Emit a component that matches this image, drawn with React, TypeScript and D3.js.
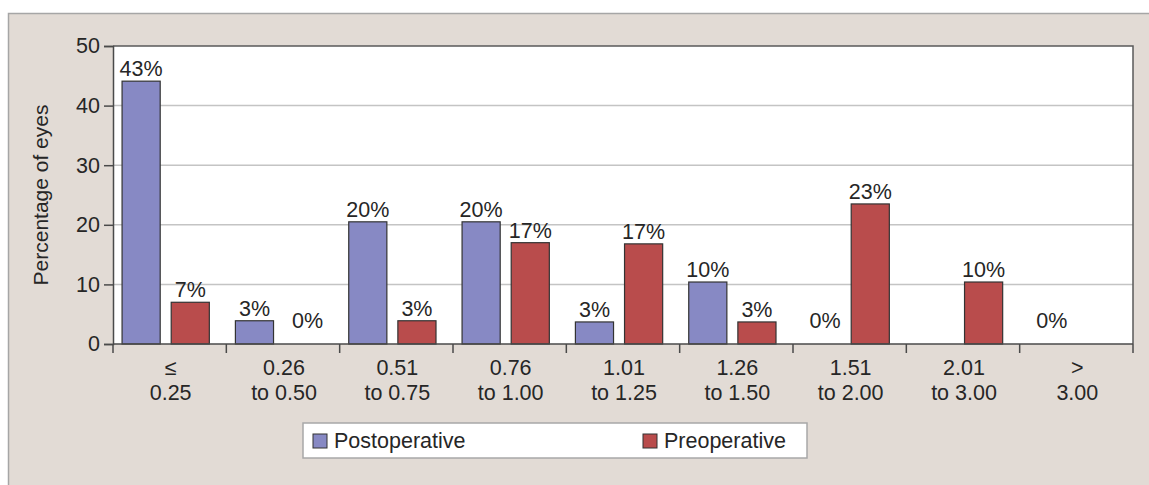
import React, { useEffect, useRef } from 'react';
import * as d3 from 'd3';

const categories = [
  ['≤', '0.25'],
  ['0.26', 'to 0.50'],
  ['0.51', 'to 0.75'],
  ['0.76', 'to 1.00'],
  ['1.01', 'to 1.25'],
  ['1.26', 'to 1.50'],
  ['1.51', 'to 2.00'],
  ['2.01', 'to 3.00'],
  ['>', '3.00'],
];

const seriesNames = ['Postoperative', 'Preoperative'];

// bar heights
const postopValues = [44.1, 3.9, 20.5, 20.5, 3.7, 10.4, 0, 0, 0];
const preopValues = [7.0, 0, 3.9, 17.0, 16.8, 3.7, 23.5, 10.4, 0];

// printed labels (null = no label in the original)
const postopLabels = ['43%', '3%', '20%', '20%', '3%', '10%', '0%', null, '0%'];
const preopLabels = ['7%', '0%', '3%', '17%', '17%', '3%', '23%', '10%', null];

const yTicks = [0, 10, 20, 30, 40, 50];

const colors = ['#8789c4', '#b94c4c'];

const FONT = '"Liberation Sans", Arial, sans-serif';
const FS = 21.5;

export default function App() {
  const svgRef = useRef<SVGSVGElement>(null);

  useEffect(() => {
    if (!svgRef.current) return;
    const svg = d3.select(svgRef.current);
    svg.selectAll('*').remove();

    const W = 1149;
    const H = 485;
    const plot = { left: 113, right: 1133, top: 46, bottom: 344 };

    // outer panel
    svg.append('rect').attr('width', W).attr('height', H).attr('fill', '#ffffff');
    svg
      .append('rect')
      .attr('x', 8.5)
      .attr('y', 13.5)
      .attr('width', W + 20)
      .attr('height', H)
      .attr('fill', '#e2dbd5')
      .attr('stroke', '#a6a6a6')
      .attr('stroke-width', 1.5);

    // scales
    const x0 = d3
      .scaleBand<number>()
      .domain(categories.map((_, i) => i))
      .range([plot.left, plot.right]);
    const bw = x0.bandwidth();
    const x1 = d3
      .scaleBand<number>()
      .domain([0, 1])
      .range([bw * 0.08, bw * 0.85])
      .paddingInner(0.224);
    const y = d3.scaleLinear().domain([0, 50]).range([plot.bottom, plot.top]);

    // plot background
    svg
      .append('rect')
      .attr('x', plot.left)
      .attr('y', plot.top)
      .attr('width', plot.right - plot.left)
      .attr('height', plot.bottom - plot.top)
      .attr('fill', '#ffffff');

    // grid lines
    svg
      .append('g')
      .selectAll('line')
      .data(yTicks.filter((t) => t > 0 && t < 50))
      .join('line')
      .attr('x1', plot.left)
      .attr('x2', plot.right)
      .attr('y1', (d) => y(d))
      .attr('y2', (d) => y(d))
      .attr('stroke', '#c4c4c4')
      .attr('stroke-width', 1.5);

    // plot border top / right
    svg
      .append('path')
      .attr('d', `M${plot.left},${plot.top}H${plot.right}V${plot.bottom}`)
      .attr('fill', 'none')
      .attr('stroke', '#5a5a5a')
      .attr('stroke-width', 1.5);

    // bars
    const series = [postopValues, preopValues];
    const labels = [postopLabels, preopLabels];
    series.forEach((vals, s) => {
      svg
        .append('g')
        .selectAll('rect')
        .data(vals.map((v, i) => ({ v, i })).filter((d) => d.v > 0))
        .join('rect')
        .attr('x', (d) => (x0(d.i) as number) + (x1(s) as number))
        .attr('y', (d) => y(d.v))
        .attr('width', x1.bandwidth())
        .attr('height', (d) => y(0) - y(d.v))
        .attr('fill', colors[s])
        .attr('stroke', '#333333')
        .attr('stroke-width', 1.2);

      svg
        .append('g')
        .selectAll('text')
        .data(vals.map((v, i) => ({ v, i, t: labels[s][i] })).filter((d) => d.t !== null))
        .join('text')
        .attr('x', (d) => (x0(d.i) as number) + (x1(s) as number) + x1.bandwidth() / 2 + (d.v === 0 ? 4 : 0))
        .attr('y', (d) => (d.v === 0 ? y(0) - 16 : y(d.v) - 5))
        .attr('text-anchor', 'middle')
        .attr('font-family', FONT)
        .attr('font-size', FS)
        .attr('fill', '#262626')
        .text((d) => d.t as string);
    });

    // y axis
    const yAxis = svg
      .append('g')
      .attr('transform', `translate(${plot.left},0)`)
      .call(d3.axisLeft(y).tickValues(yTicks).tickSize(9).tickPadding(4));
    yAxis.select('.domain').attr('stroke', '#4a4a4a').attr('stroke-width', 1.5);
    yAxis.selectAll('.tick line').attr('stroke', '#4a4a4a').attr('stroke-width', 1.5);
    yAxis
      .selectAll('.tick text')
      .attr('font-family', FONT)
      .attr('font-size', FS)
      .attr('fill', '#262626');

    // x axis line and boundary ticks
    svg
      .append('line')
      .attr('x1', plot.left)
      .attr('x2', plot.right)
      .attr('y1', plot.bottom)
      .attr('y2', plot.bottom)
      .attr('stroke', '#4a4a4a')
      .attr('stroke-width', 1.5);
    const bounds = categories.map((_, i) => x0(i) as number).concat([plot.right]);
    svg
      .append('g')
      .selectAll('line')
      .data(bounds)
      .join('line')
      .attr('x1', (d) => d)
      .attr('x2', (d) => d)
      .attr('y1', plot.bottom)
      .attr('y2', plot.bottom + 9)
      .attr('stroke', '#4a4a4a')
      .attr('stroke-width', 1.5);

    const xl = svg
      .append('g')
      .selectAll('text')
      .data(categories)
      .join('text')
      .attr('x', (_, i) => (x0(i) as number) + bw / 2 + 1)
      .attr('y', plot.bottom + 31)
      .attr('text-anchor', 'middle')
      .attr('font-family', FONT)
      .attr('font-size', FS)
      .attr('fill', '#262626');
    xl.append('tspan')
      .attr('x', (_, i) => (x0(i) as number) + bw / 2 + 1)
      .text((d) => d[0]);
    xl.append('tspan')
      .attr('x', (_, i) => (x0(i) as number) + bw / 2 + 1)
      .attr('dy', 25)
      .text((d) => d[1]);

    // y axis title
    svg
      .append('text')
      .attr('transform', `translate(48,${(plot.top + plot.bottom) / 2}) rotate(-90)`)
      .attr('text-anchor', 'middle')
      .attr('font-family', FONT)
      .attr('font-size', 21)
      .attr('fill', '#262626')
      .text('Percentage of eyes');

    // legend
    const legend = svg.append('g');
    legend
      .append('rect')
      .attr('x', 303)
      .attr('y', 423)
      .attr('width', 504)
      .attr('height', 35)
      .attr('fill', '#ffffff')
      .attr('stroke', '#a8a8a8')
      .attr('stroke-width', 1.5);
    const legendX = [313, 643];
    seriesNames.forEach((name, s) => {
      legend
        .append('rect')
        .attr('x', legendX[s])
        .attr('y', 434)
        .attr('width', 14)
        .attr('height', 14)
        .attr('fill', colors[s])
        .attr('stroke', '#333333')
        .attr('stroke-width', 1);
      legend
        .append('text')
        .attr('x', legendX[s] + 21)
        .attr('y', 448)
        .attr('font-family', FONT)
        .attr('font-size', FS)
        .attr('fill', '#262626')
        .text(name);
    });
  }, []);

  return (
    <svg
      ref={svgRef}
      width={1149}
      height={485}
      style={{ position: 'absolute', left: 0, top: 0, display: 'block' }}
    />
  );
}
